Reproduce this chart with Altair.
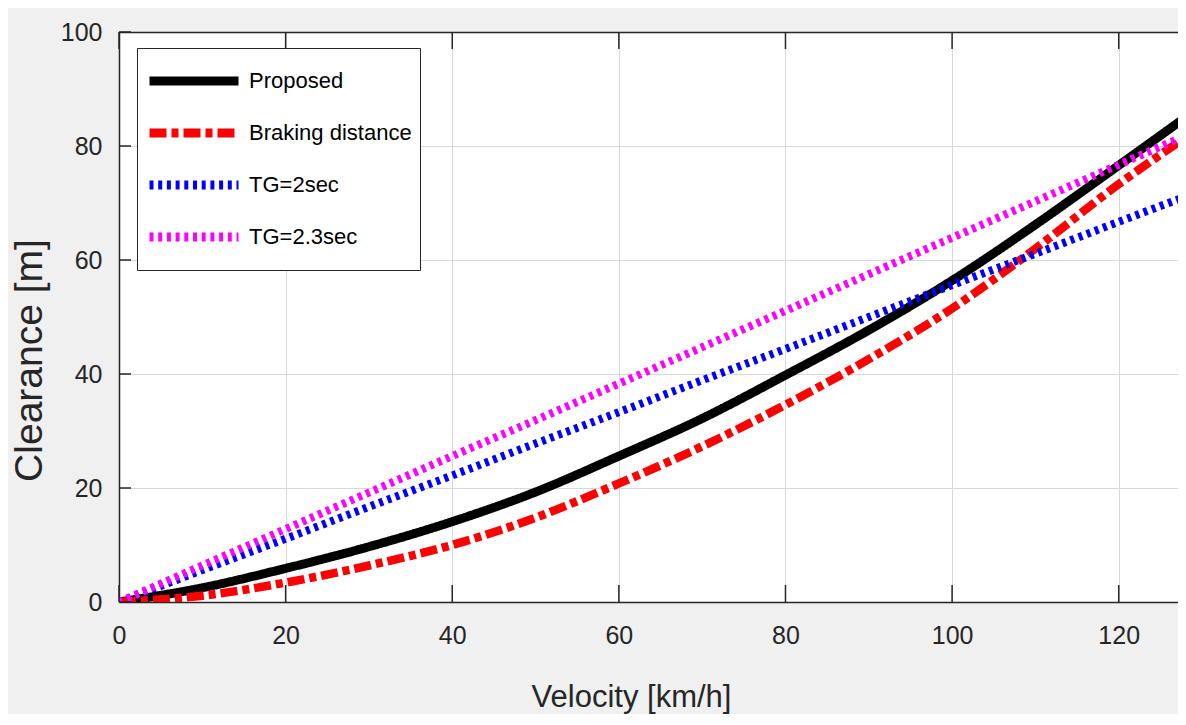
import altair as alt
import pandas as pd

# ---- data ----
VELOCITY = [0, 10, 20, 30, 40, 50, 60, 70, 80, 90, 100, 110, 120, 128]
PROPOSED = [0, 2.5, 5.9, 9.7, 14.1, 19.3, 25.6, 32.2, 39.8, 47.7, 56.4, 66.2, 76.6, 85.0]
BRAKING = [0, 1.1, 3.4, 6.4, 10.0, 14.8, 20.8, 27.3, 34.6, 42.6, 51.5, 62.0, 73.3, 81.5]
TG2 = [0, 5.6, 11.1, 16.7, 22.2, 27.8, 33.3, 38.9, 44.4, 50.0, 55.6, 61.1, 66.7, 71.1]
TG23 = [0, 6.4, 12.8, 19.2, 25.6, 31.9, 38.3, 44.7, 51.1, 57.5, 63.9, 70.3, 76.7, 81.8]

SERIES = ["Proposed", "Braking distance", "TG=2sec", "TG=2.3sec"]
COLORS = ["#000000", "#ff0000", "#0000ff", "#ff00ff"]
DASHES = [[1, 0], [17, 5, 7, 5], [4, 4.7], [4, 4.7]]
WIDTHS = [9, 8.5, 8, 8]

XTICKS = [0, 20, 40, 60, 80, 100, 120]
YTICKS = [0, 20, 40, 60, 80, 100]

FONT = "Liberation Sans, Arial, Helvetica, sans-serif"
AXC = "#262626"

rows = []
for name, vals in zip(SERIES, [PROPOSED, BRAKING, TG2, TG23]):
    for v, d in zip(VELOCITY, vals):
        rows.append({"v": v, "d": d, "series": name})
df = pd.DataFrame(rows)
xt = pd.DataFrame({"v": XTICKS})
yt = pd.DataFrame({"d": YTICKS})

W, H = 1059, 570
xscale = alt.Scale(domain=[0, 1059 / 8.331], nice=False, zero=False)
yscale = alt.Scale(domain=[0, 100], nice=False, zero=False)

leg = alt.Legend(
    title=None, orient="none", legendX=18, legendY=16,
    symbolType="stroke", symbolSize=7921, symbolStrokeWidth=9,
    clipHeight=50, rowPadding=2, padding=8, labelOffset=6,
    labelFont=FONT, labelFontSize=22, labelColor="#000000", labelLimit=400,
    strokeColor=AXC, fillColor="#ffffff",
)
color = alt.Color("series:N", scale=alt.Scale(domain=SERIES, range=COLORS), legend=leg)
dash = alt.StrokeDash("series:N", scale=alt.Scale(domain=SERIES, range=DASHES), legend=leg)

xaxis = alt.Axis(
    values=XTICKS, grid=True, gridColor="#d8d8d8", gridWidth=1,
    ticks=False, tickSize=0, domain=True, domainColor=AXC, domainWidth=1.5,
    labelFont=FONT, labelFontSize=25, labelColor=AXC, labelPadding=21,
    labelFlush=False,
    title="Velocity [km/h]", titleFont=FONT, titleFontSize=31,
    titleFontWeight="normal", titleColor=AXC, titleX=512, titleY=104,
    titleBaseline="alphabetic", titleAlign="center",
)
yaxis = alt.Axis(
    values=YTICKS, grid=True, gridColor="#d8d8d8", gridWidth=1,
    ticks=False, tickSize=0, domain=True, domainColor=AXC, domainWidth=1.5,
    labelFont=FONT, labelFontSize=25, labelColor=AXC, labelPadding=17,
    title="Clearance [m]", titleFont=FONT, titleFontSize=39,
    titleFontWeight="normal", titleColor=AXC, titleAngle=270,
    titleX=-90, titleY=328, titleAlign="center", titleBaseline="middle",
)

layers = []
for i, (s, w) in enumerate(zip(SERIES, WIDTHS)):
    layers.append(
        alt.Chart(df)
        .transform_filter(alt.datum.series == s)
        .mark_line(clip=True, strokeWidth=w, strokeCap="butt", interpolate="monotone")
        .encode(
            x=alt.X("v:Q", scale=xscale, axis=xaxis if i == 0 else None),
            y=alt.Y("d:Q", scale=yscale, axis=yaxis),
            color=color,
            strokeDash=dash,
        )
    )

bottom_ticks = alt.Chart(xt).mark_rule(color=AXC, strokeWidth=1.5).encode(
    x=alt.X("v:Q", scale=xscale, axis=None), y=alt.value(H), y2=alt.value(H - 17)
)
top_ticks = alt.Chart(xt).mark_rule(color=AXC, strokeWidth=1.5).encode(
    x=alt.X("v:Q", scale=xscale, axis=alt.Axis(
        orient="top", labels=False, ticks=False, grid=False, domain=True,
        domainColor=AXC, domainWidth=1.5, title=None)),
    y=alt.value(0), y2=alt.value(17),
)
left_ticks = alt.Chart(yt).mark_rule(color=AXC, strokeWidth=1.5).encode(
    y=alt.Y("d:Q", scale=yscale, axis=yaxis), x=alt.value(0), x2=alt.value(12)
)

chart = (
    alt.layer(*layers, bottom_ticks, top_ticks, left_ticks)
    .resolve_axis(x="independent")
    .properties(
        width=W, height=H,
        autosize=alt.AutoSizeParams(type="none"),
        padding={"left": 111, "top": 24, "right": 0, "bottom": 112},
        background="#f0f0f0",
    )
    .configure_view(stroke=None, fill="#ffffff")
)

chart.save("out.html", embed_options={"renderer": "svg", "actions": False})
